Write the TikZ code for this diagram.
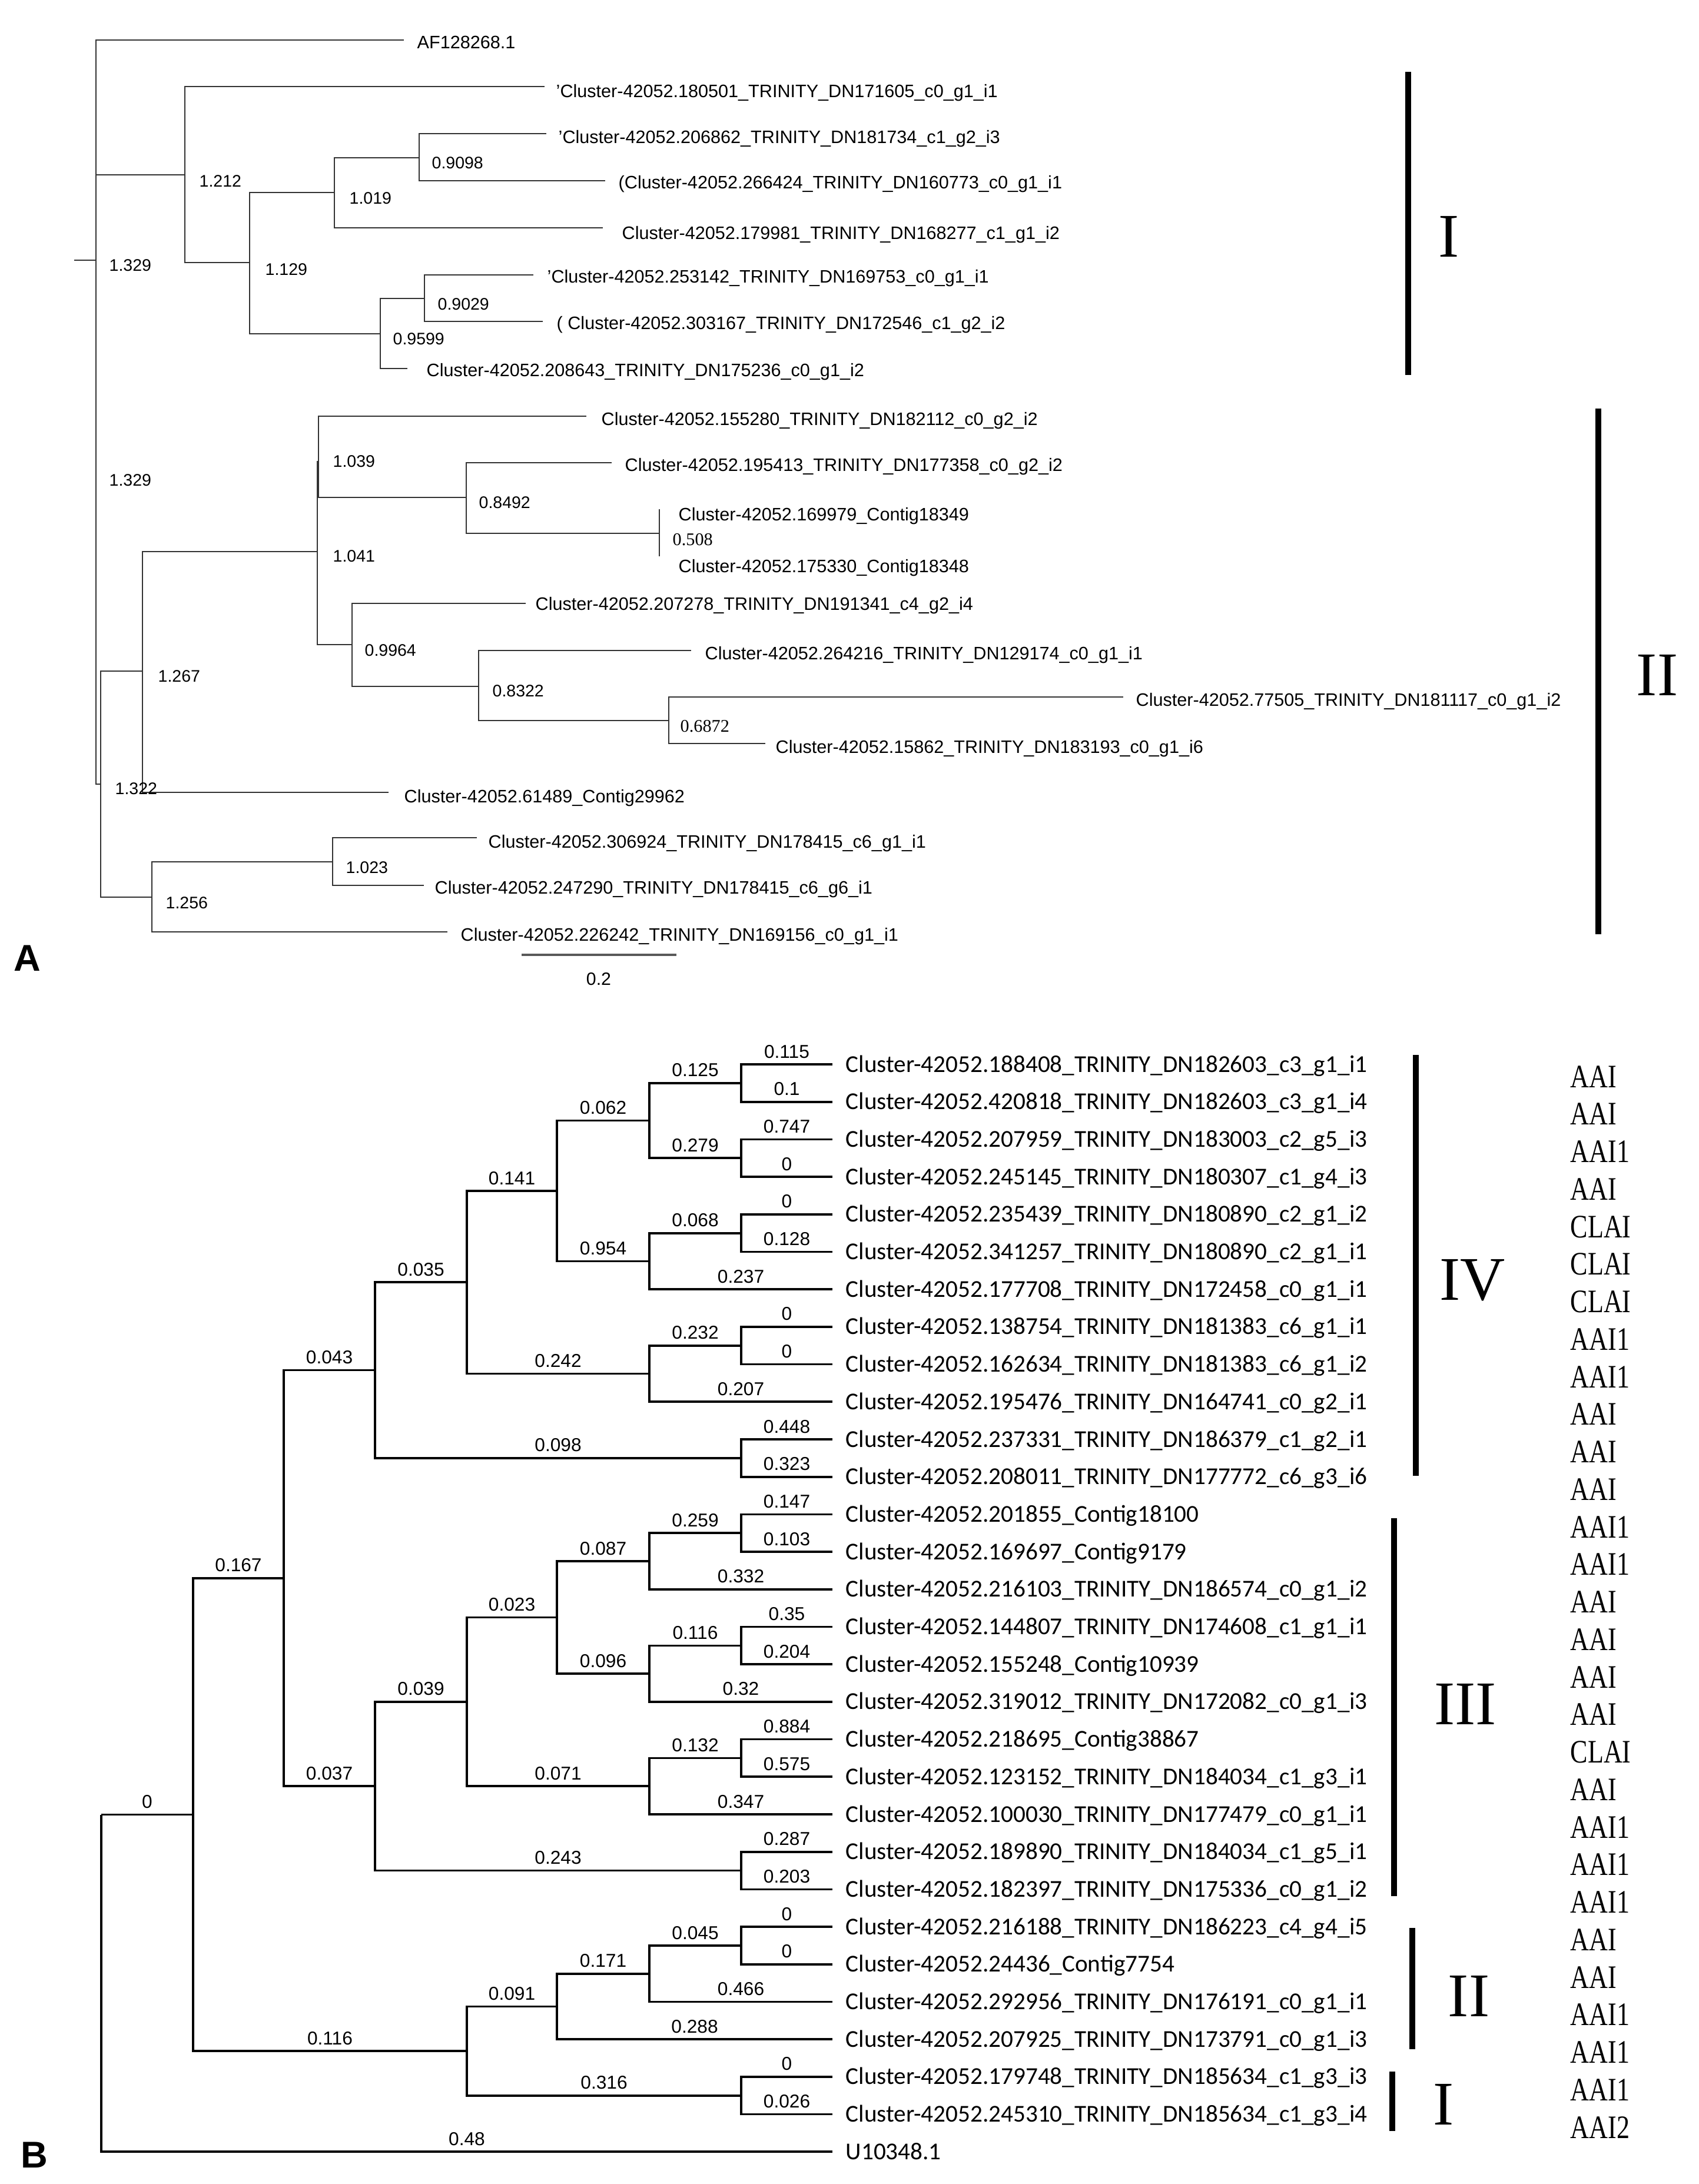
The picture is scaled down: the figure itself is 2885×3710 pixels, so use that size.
\documentclass[tikz,border=0pt]{standalone}
\usepackage{fontspec}
\setmainfont{Liberation Sans}
\newfontfamily\carl{Carlito}
\newfontfamily\tnr{Liberation Serif}
\begin{document}
\begin{tikzpicture}[x=0.01cm,y=-0.01cm,
  treeA/.style={line width=0.7pt,draw=black!80},
  treeB/.style={line width=1.05pt,draw=black},
  labA/.style={font=\fontsize{8.7}{10}\selectfont,anchor=base west,inner sep=0pt},
  bvA/.style={font=\fontsize{8.1}{9}\selectfont,anchor=west,inner sep=0pt},
  bvAs/.style={font=\tnr\fontsize{8.6}{9}\selectfont,anchor=west,inner sep=0pt},
  labB/.style={font=\carl\fontsize{11.7}{13}\selectfont,anchor=base west,inner sep=0pt},
  bvB/.style={pos=0.75,anchor=south,yshift=2.5pt,inner sep=0pt,font=\fontsize{9}{10}\selectfont},
  cladebar/.style={line width=2.8pt,draw=black},
  roman/.style={font=\tnr\fontsize{30}{32}\selectfont,inner sep=0pt},
  typ/.style={font=\tnr\fontsize{13.2}{14}\selectfont,anchor=base west,inner sep=0pt},
  panel/.style={font=\bfseries\fontsize{18}{20}\selectfont,inner sep=0pt}]
\useasboundingbox (0,0) rectangle (2885,3710);
\fill[white] (0,0) rectangle (2885,3710);

% ================= PANEL A =================
\coordinate (rAs) at (126,442);
\coordinate (rA) at (163,442);
\coordinate (aAF) at (686,68);
\coordinate (nI) at (314,297);
\coordinate (a1) at (925,147);
\coordinate (n1129) at (424,446);
\coordinate (n1019) at (568,327);
\coordinate (n9098) at (712,268);
\coordinate (a2) at (928,227);
\coordinate (a3) at (1028,307);
\coordinate (a4) at (1024,387);
\coordinate (n9599) at (646,567);
\coordinate (n9029) at (721,507);
\coordinate (a5) at (906,467);
\coordinate (a6) at (922,546);
\coordinate (a7) at (692,626);
\coordinate (nLow) at (171,1332);
\coordinate (n1267) at (242,1140);
\coordinate (n1041) at (539,937);
\coordinate (n1039) at (541,784);
\coordinate (a8) at (996,707);
\coordinate (n8492) at (792,845);
\coordinate (a9) at (1039,786);
\coordinate (n508) at (1120,906);
\coordinate (a10) at (1120,865);
\coordinate (a11) at (1120,945);
\coordinate (n9964) at (598,1095);
\coordinate (a12) at (893,1025);
\coordinate (n8322) at (813,1166);
\coordinate (a13) at (1174,1105);
\coordinate (n6872) at (1136,1224);
\coordinate (a14) at (1908,1184);
\coordinate (a15) at (1300,1263);
\coordinate (a16) at (660,1346);
\coordinate (n1256) at (258,1524);
\coordinate (n1023) at (565,1464);
\coordinate (a17) at (810,1423);
\coordinate (a18) at (720,1504);
\coordinate (a19) at (760,1583);

\draw[treeA] (rAs) -- (rA);
\draw[treeA] (rA) |- (aAF);
\draw[treeA] (rA) |- (nI);
\draw[treeA] (rA) |- (nLow);
\draw[treeA] (nI) |- (a1);
\draw[treeA] (nI) |- (n1129);
\draw[treeA] (n1129) |- (n1019);
\draw[treeA] (n1129) |- (n9599);
\draw[treeA] (n1019) |- (n9098);
\draw[treeA] (n1019) |- (a4);
\draw[treeA] (n9098) |- (a2);
\draw[treeA] (n9098) |- (a3);
\draw[treeA] (n9599) |- (n9029);
\draw[treeA] (n9599) |- (a7);
\draw[treeA] (n9029) |- (a5);
\draw[treeA] (n9029) |- (a6);
\draw[treeA] (nLow) |- (n1267);
\draw[treeA] (nLow) |- (n1256);
\draw[treeA] (n1267) |- (n1041);
\draw[treeA] (n1267) |- (a16);
\draw[treeA] (n1041) |- (n1039);
\draw[treeA] (n1041) |- (n9964);
\draw[treeA] (n1039) |- (a8);
\draw[treeA] (n1039) |- (n8492);
\draw[treeA] (n8492) |- (a9);
\draw[treeA] (n8492) |- (n508);
\draw[treeA] (n508) |- (a10);
\draw[treeA] (n508) |- (a11);
\draw[treeA] (n9964) |- (a12);
\draw[treeA] (n9964) |- (n8322);
\draw[treeA] (n8322) |- (a13);
\draw[treeA] (n8322) |- (n6872);
\draw[treeA] (n6872) |- (a14);
\draw[treeA] (n6872) |- (a15);
\draw[treeA] (n1256) |- (n1023);
\draw[treeA] (n1256) |- (a19);
\draw[treeA] (n1023) |- (a17);
\draw[treeA] (n1023) |- (a18);

% leaf labels A
\node[labA] (tAF) at (708,83) {AF128268.1};
\node[labA] (t1) at (944,166) {'Cluster-42052.180501\_TRINITY\_DN171605\_c0\_g1\_i1};
\node[labA] (t2) at (948,244) {'Cluster-42052.206862\_TRINITY\_DN181734\_c1\_g2\_i3};
\node[labA] (t3) at (1050,321) {(Cluster-42052.266424\_TRINITY\_DN160773\_c0\_g1\_i1};
\node[labA] (t4) at (1056,407) {Cluster-42052.179981\_TRINITY\_DN168277\_c1\_g1\_i2};
\node[labA] (t5) at (929,481) {'Cluster-42052.253142\_TRINITY\_DN169753\_c0\_g1\_i1};
\node[labA] (t6) at (945,560) {( Cluster-42052.303167\_TRINITY\_DN172546\_c1\_g2\_i2};
\node[labA] (t7) at (724,640) {Cluster-42052.208643\_TRINITY\_DN175236\_c0\_g1\_i2};
\node[labA] (t8) at (1021,723) {Cluster-42052.155280\_TRINITY\_DN182112\_c0\_g2\_i2};
\node[labA] (t9) at (1061,801) {Cluster-42052.195413\_TRINITY\_DN177358\_c0\_g2\_i2};
\node[labA] (t10) at (1152,885) {Cluster-42052.169979\_Contig18349};
\node[labA] (t11) at (1152,972) {Cluster-42052.175330\_Contig18348};
\node[labA] (t12) at (909,1036) {Cluster-42052.207278\_TRINITY\_DN191341\_c4\_g2\_i4};
\node[labA] (t13) at (1197,1120) {Cluster-42052.264216\_TRINITY\_DN129174\_c0\_g1\_i1};
\node[labA] (t14) at (1929,1199) {Cluster-42052.77505\_TRINITY\_DN181117\_c0\_g1\_i2};
\node[labA] (t15) at (1317,1279) {Cluster-42052.15862\_TRINITY\_DN183193\_c0\_g1\_i6};
\node[labA] (t16) at (686,1363) {Cluster-42052.61489\_Contig29962};
\node[labA] (t17) at (829,1440) {Cluster-42052.306924\_TRINITY\_DN178415\_c6\_g1\_i1};
\node[labA] (t18) at (738,1518) {Cluster-42052.247290\_TRINITY\_DN178415\_c6\_g6\_i1};
\node[labA] (t19) at (782,1598) {Cluster-42052.226242\_TRINITY\_DN169156\_c0\_g1\_i1};

% branch values A
\node[bvA] (v1) at (338,308) {1.212};
\node[bvA] (v2) at (185,451) {1.329};
\node[bvA] (v3) at (450,458) {1.129};
\node[bvA] (v4) at (593,337) {1.019};
\node[bvA] (v5) at (733,277) {0.9098};
\node[bvA] (v6) at (667,576) {0.9599};
\node[bvA] (v7) at (743,517) {0.9029};
\node[bvA] (v8) at (565,784) {1.039};
\node[bvA] (v9) at (185,816) {1.329};
\node[bvA] (v10) at (813,854) {0.8492};
\node[bvAs] (v11) at (1142,917) {0.508};
\node[bvA] (v12) at (565,945) {1.041};
\node[bvA] (v13) at (619,1105) {0.9964};
\node[bvA] (v14) at (268,1149) {1.267};
\node[bvA] (v15) at (836,1174) {0.8322};
\node[bvAs] (v16) at (1155,1234) {0.6872};
\node[bvA] (v17) at (195,1340) {1.322};
\node[bvA] (v18) at (587,1474) {1.023};
\node[bvA] (v19) at (281,1534) {1.256};

% scale bar
\coordinate (sb1) at (886,1622);
\coordinate (sb2) at (1149,1622);
\draw[line width=0.9pt,draw=black!65] (sb1) -- (sb2);
\node[font=\fontsize{8.6}{9}\selectfont,inner sep=0pt] (sbl) at (1017,1663) {0.2};

% clade bars A
\coordinate (IAt) at (2392,122);
\coordinate (IAb) at (2392,637);
\draw[cladebar] (IAt) -- (IAb);
\node[roman] (IAl) at (2461,402) {I};
\coordinate (IIAt) at (2715,694);
\coordinate (IIAb) at (2715,1587);
\draw[cladebar] (IIAt) -- (IIAb);
\node[roman] (IIAl) at (2815,1147) {II};

\node[panel] (pA) at (46,1628) {A};

% ================= PANEL B =================
\foreach \k in {0,...,29} {\coordinate (bL\k) at (1414,{1808+63.7*\k});}
\coordinate (rootB) at (172,3082.5);
\coordinate (n0) at (328,3082.5);
\coordinate (n167) at (482,2680.9);
\coordinate (n116) at (793,3484.1);
\coordinate (n043) at (637,2327.55);
\coordinate (n037) at (637,3034.2);
\coordinate (n035) at (793,2178.25);
\coordinate (n098) at (1259,2476.85);
\coordinate (n141) at (946,2023.0);
\coordinate (n242) at (1103,2333.5);
\coordinate (n062) at (1103,1903.55);
\coordinate (n954) at (1103,2142.4);
\coordinate (n125) at (1259,1839.85);
\coordinate (n279) at (1259,1967.25);
\coordinate (n068) at (1259,2094.65);
\coordinate (n232) at (1259,2285.75);
\coordinate (n039) at (793,2890.9);
\coordinate (n243) at (1259,3177.55);
\coordinate (n023) at (946,2747.55);
\coordinate (n071) at (1103,3034.2);
\coordinate (n087) at (1103,2652.0);
\coordinate (n096) at (1103,2843.1);
\coordinate (n259) at (1259,2604.25);
\coordinate (n116b) at (1259,2795.35);
\coordinate (n132) at (1259,2986.45);
\coordinate (n091) at (946,3408.45);
\coordinate (n316) at (1259,3559.75);
\coordinate (n171) at (1103,3352.7);
\coordinate (n045) at (1259,3304.95);

\draw[treeB] (rootB) |- node[bvB] (w1) {0} (n0);
\draw[treeB] (rootB) |- node[bvB] (w2) {0.48} (bL29);
\draw[treeB] (n0) |- node[bvB] (w3) {0.167} (n167);
\draw[treeB] (n0) |- node[bvB] (w4) {0.116} (n116);
\draw[treeB] (n167) |- node[bvB] (w5) {0.043} (n043);
\draw[treeB] (n167) |- node[bvB] (w6) {0.037} (n037);
\draw[treeB] (n043) |- node[bvB] (w7) {0.035} (n035);
\draw[treeB] (n043) |- node[bvB] (w8) {0.098} (n098);
\draw[treeB] (n035) |- node[bvB] (w9) {0.141} (n141);
\draw[treeB] (n035) |- node[bvB] (w10) {0.242} (n242);
\draw[treeB] (n141) |- node[bvB] (w11) {0.062} (n062);
\draw[treeB] (n141) |- node[bvB] (w12) {0.954} (n954);
\draw[treeB] (n062) |- node[bvB] (w13) {0.125} (n125);
\draw[treeB] (n062) |- node[bvB] (w14) {0.279} (n279);
\draw[treeB] (n125) |- node[bvB] (w15) {0.115} (bL0);
\draw[treeB] (n125) |- node[bvB] (w16) {0.1} (bL1);
\draw[treeB] (n279) |- node[bvB] (w17) {0.747} (bL2);
\draw[treeB] (n279) |- node[bvB] (w18) {0} (bL3);
\draw[treeB] (n954) |- node[bvB] (w19) {0.068} (n068);
\draw[treeB] (n954) |- node[bvB] (w20) {0.237} (bL6);
\draw[treeB] (n068) |- node[bvB] (w21) {0} (bL4);
\draw[treeB] (n068) |- node[bvB] (w22) {0.128} (bL5);
\draw[treeB] (n242) |- node[bvB] (w23) {0.232} (n232);
\draw[treeB] (n242) |- node[bvB] (w24) {0.207} (bL9);
\draw[treeB] (n232) |- node[bvB] (w25) {0} (bL7);
\draw[treeB] (n232) |- node[bvB] (w26) {0} (bL8);
\draw[treeB] (n098) |- node[bvB] (w27) {0.448} (bL10);
\draw[treeB] (n098) |- node[bvB] (w28) {0.323} (bL11);
\draw[treeB] (n037) |- node[bvB] (w29) {0.039} (n039);
\draw[treeB] (n037) |- node[bvB] (w30) {0.243} (n243);
\draw[treeB] (n039) |- node[bvB] (w31) {0.023} (n023);
\draw[treeB] (n039) |- node[bvB] (w32) {0.071} (n071);
\draw[treeB] (n023) |- node[bvB] (w33) {0.087} (n087);
\draw[treeB] (n023) |- node[bvB] (w34) {0.096} (n096);
\draw[treeB] (n087) |- node[bvB] (w35) {0.259} (n259);
\draw[treeB] (n087) |- node[bvB] (w36) {0.332} (bL14);
\draw[treeB] (n259) |- node[bvB] (w37) {0.147} (bL12);
\draw[treeB] (n259) |- node[bvB] (w38) {0.103} (bL13);
\draw[treeB] (n096) |- node[bvB] (w39) {0.116} (n116b);
\draw[treeB] (n096) |- node[bvB] (w40) {0.32} (bL17);
\draw[treeB] (n116b) |- node[bvB] (w41) {0.35} (bL15);
\draw[treeB] (n116b) |- node[bvB] (w42) {0.204} (bL16);
\draw[treeB] (n071) |- node[bvB] (w43) {0.132} (n132);
\draw[treeB] (n071) |- node[bvB] (w44) {0.347} (bL20);
\draw[treeB] (n132) |- node[bvB] (w45) {0.884} (bL18);
\draw[treeB] (n132) |- node[bvB] (w46) {0.575} (bL19);
\draw[treeB] (n243) |- node[bvB] (w47) {0.287} (bL21);
\draw[treeB] (n243) |- node[bvB] (w48) {0.203} (bL22);
\draw[treeB] (n116) |- node[bvB] (w49) {0.091} (n091);
\draw[treeB] (n116) |- node[bvB] (w50) {0.316} (n316);
\draw[treeB] (n091) |- node[bvB] (w51) {0.171} (n171);
\draw[treeB] (n091) |- node[bvB] (w52) {0.288} (bL26);
\draw[treeB] (n171) |- node[bvB] (w53) {0.045} (n045);
\draw[treeB] (n171) |- node[bvB] (w54) {0.466} (bL25);
\draw[treeB] (n045) |- node[bvB] (w55) {0} (bL23);
\draw[treeB] (n045) |- node[bvB] (w56) {0} (bL24);
\draw[treeB] (n316) |- node[bvB] (w57) {0} (bL27);
\draw[treeB] (n316) |- node[bvB] (w58) {0.026} (bL28);

% leaf labels B
\foreach \k/\t in {
 0/{Cluster-42052.188408\_TRINITY\_DN182603\_c3\_g1\_i1},
 1/{Cluster-42052.420818\_TRINITY\_DN182603\_c3\_g1\_i4},
 2/{Cluster-42052.207959\_TRINITY\_DN183003\_c2\_g5\_i3},
 3/{Cluster-42052.245145\_TRINITY\_DN180307\_c1\_g4\_i3},
 4/{Cluster-42052.235439\_TRINITY\_DN180890\_c2\_g1\_i2},
 5/{Cluster-42052.341257\_TRINITY\_DN180890\_c2\_g1\_i1},
 6/{Cluster-42052.177708\_TRINITY\_DN172458\_c0\_g1\_i1},
 7/{Cluster-42052.138754\_TRINITY\_DN181383\_c6\_g1\_i1},
 8/{Cluster-42052.162634\_TRINITY\_DN181383\_c6\_g1\_i2},
 9/{Cluster-42052.195476\_TRINITY\_DN164741\_c0\_g2\_i1},
 10/{Cluster-42052.237331\_TRINITY\_DN186379\_c1\_g2\_i1},
 11/{Cluster-42052.208011\_TRINITY\_DN177772\_c6\_g3\_i6},
 12/{Cluster-42052.201855\_Contig18100},
 13/{Cluster-42052.169697\_Contig9179},
 14/{Cluster-42052.216103\_TRINITY\_DN186574\_c0\_g1\_i2},
 15/{Cluster-42052.144807\_TRINITY\_DN174608\_c1\_g1\_i1},
 16/{Cluster-42052.155248\_Contig10939},
 17/{Cluster-42052.319012\_TRINITY\_DN172082\_c0\_g1\_i3},
 18/{Cluster-42052.218695\_Contig38867},
 19/{Cluster-42052.123152\_TRINITY\_DN184034\_c1\_g3\_i1},
 20/{Cluster-42052.100030\_TRINITY\_DN177479\_c0\_g1\_i1},
 21/{Cluster-42052.189890\_TRINITY\_DN184034\_c1\_g5\_i1},
 22/{Cluster-42052.182397\_TRINITY\_DN175336\_c0\_g1\_i2},
 23/{Cluster-42052.216188\_TRINITY\_DN186223\_c4\_g4\_i5},
 24/{Cluster-42052.24436\_Contig7754},
 25/{Cluster-42052.292956\_TRINITY\_DN176191\_c0\_g1\_i1},
 26/{Cluster-42052.207925\_TRINITY\_DN173791\_c0\_g1\_i3},
 27/{Cluster-42052.179748\_TRINITY\_DN185634\_c1\_g3\_i3},
 28/{Cluster-42052.245310\_TRINITY\_DN185634\_c1\_g3\_i4},
 29/{U10348.1}}
 {\node[labB] (tb\k) at (1436,{1808+63.7*\k+13}) {\t};}

% type labels
\foreach \k/\t in {0/AAI,1/AAI,2/AAI1,3/AAI,4/CLAI,5/CLAI,6/CLAI,7/AAI1,8/AAI1,9/AAI,
 10/AAI,11/AAI,12/AAI1,13/AAI1,14/AAI,15/AAI,16/AAI,17/AAI,18/CLAI,19/AAI,
 20/AAI1,21/AAI1,22/AAI1,23/AAI,24/AAI,25/AAI1,26/AAI1,27/AAI1,28/AAI2}
 {\node[typ] (ty\k) at (2667,{1829+63.75*\k+18}) {\scalebox{0.95}[1.2]{\t}};}

% clade bars B
\coordinate (IVt) at (2405,1792);
\coordinate (IVb) at (2405,2507);
\draw[cladebar] (IVt) -- (IVb);
\node[roman] (IVl) at (2501,2175) {IV};
\coordinate (IIIt) at (2368,2579);
\coordinate (IIIb) at (2368,3221);
\draw[cladebar] (IIIt) -- (IIIb);
\node[roman] (IIIl) at (2489,2895) {III};
\coordinate (IIBt) at (2399,3275);
\coordinate (IIBb) at (2399,3481);
\draw[cladebar] (IIBt) -- (IIBb);
\node[roman] (IIBl) at (2495,3391) {II};
\coordinate (IBt) at (2365,3519);
\coordinate (IBb) at (2365,3620);
\draw[cladebar] (IBt) -- (IBb);
\node[roman] (IBl) at (2452,3575) {I};

\node[panel] (pB) at (58,3661) {B};
\end{tikzpicture}
\end{document}
